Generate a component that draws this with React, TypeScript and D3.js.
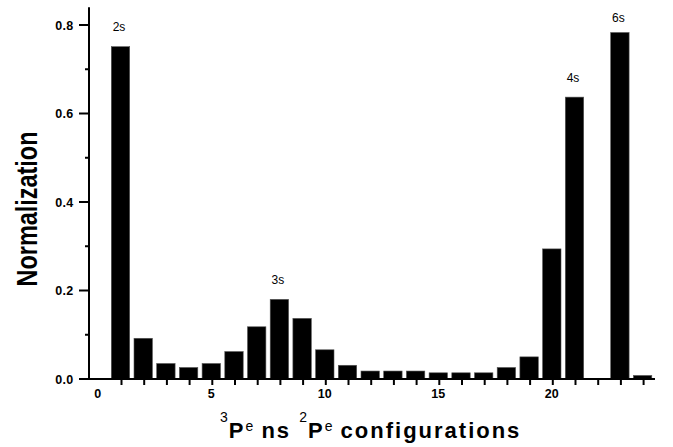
import React from "react";
import * as d3 from "d3";

const categories = d3.range(1, 25);
const values = [0.751, 0.092, 0.035, 0.026, 0.035, 0.062, 0.118, 0.18, 0.137, 0.066, 0.031, 0.018, 0.018, 0.018, 0.014, 0.014, 0.014, 0.026, 0.05, 0.294, 0.637, 0, 0.783, 0.008];
const yTicks = [0, 0.2, 0.4, 0.6, 0.8];
const yMinorTicks = [0.1, 0.3, 0.5, 0.7];
const xTickLabels = [0, 5, 10, 15, 20];
const peakLabels = ["2s", "3s", "4s", "6s"];
const peakCats = [1, 8, 21, 23];
const peakLabelY = [0.787, 0.2147, 0.672, 0.807];

const W = 673;
const H = 447;

export default function App() {
  const x = d3.scaleLinear().domain([0, 24]).range([97.8, 642.6]);
  const y = d3.scaleLinear().domain([0, 0.8]).range([379, 25]);
  const axisLeft = 89;
  const axisRight = 655;
  const axisTop = y(0.84);
  const bw = 18.4;
  const font = "'Liberation Sans', Arial, sans-serif";

  return (
    <svg width={W} height={H} style={{ position: "fixed", left: 0, top: 0, background: "#fff" }} fontFamily={font}>
      <rect x={0} y={0} width={W} height={H} fill="#fff" />
      {categories.map((c, i) =>
        values[i] > 0 ? (
          <rect key={c} x={x(c) - bw / 2} y={y(values[i])} width={bw} height={y(0) - y(values[i])} fill="#000" stroke="#555" strokeWidth={0.6} />
        ) : null
      )}
      {/* axes */}
      <line x1={axisLeft} x2={axisLeft} y1={axisTop} y2={y(0) + 1} stroke="#000" strokeWidth={2} />
      <line x1={axisLeft - 1} x2={axisRight} y1={y(0)} y2={y(0)} stroke="#000" strokeWidth={2} />
      {yTicks.map((t) => (
        <g key={t}>
          <line x1={axisLeft - 10} x2={axisLeft} y1={y(t)} y2={y(t)} stroke="#000" strokeWidth={2} />
          <text x={73.5} y={y(t)} dy="0.36em" textAnchor="end" fontSize={12.5} fontWeight="bold" letterSpacing={0.3}>
            {t.toFixed(1)}
          </text>
        </g>
      ))}
      {yMinorTicks.map((t) => (
        <line key={t} x1={axisLeft - 4} x2={axisLeft} y1={y(t)} y2={y(t)} stroke="#000" strokeWidth={2} />
      ))}
      {categories.map((c) => (
        <line key={c} x1={x(c) + 1} x2={x(c) + 1} y1={y(0)} y2={y(0) + 6} stroke="#000" strokeWidth={2} />
      ))}
      {xTickLabels.map((t) => (
        <text key={t} x={x(t)} y={398} textAnchor="middle" fontSize={12.5} fontWeight="bold">
          {t}
        </text>
      ))}
      {peakLabels.map((l, i) => (
        <text key={l} x={x(peakCats[i]) - 1.5} y={y(peakLabelY[i])} textAnchor="middle" fontSize={12}>
          {l}
        </text>
      ))}
      {/* y title */}
      <text
        transform={`translate(37,209) rotate(-90) scale(1,1.35)`}
        textAnchor="middle"
        fontSize={22}
        fontWeight="bold"
        textLength={155}
        lengthAdjust="spacingAndGlyphs"
      >
        Normalization
      </text>
      {/* x title */}
      <text x={220} y={438} textAnchor="start" fontSize={22} fontWeight="bold" letterSpacing={2} style={{ whiteSpace: "pre" }}>
        <tspan fontSize={14} fontWeight="normal" dy={-16} letterSpacing={0}>3</tspan>
        <tspan dy={16} dx={1}>P</tspan>
        <tspan fontSize={14} fontWeight="normal" dy={-7} letterSpacing={0}>e</tspan>
        <tspan dy={7}>{" ns "}</tspan>
        <tspan fontSize={14} fontWeight="normal" dy={-16} letterSpacing={0}>2</tspan>
        <tspan dy={16} dx={1}>P</tspan>
        <tspan fontSize={14} fontWeight="normal" dy={-7} letterSpacing={0}>e</tspan>
        <tspan dy={7}>{" configurations"}</tspan>
      </text>
    </svg>
  );
}
